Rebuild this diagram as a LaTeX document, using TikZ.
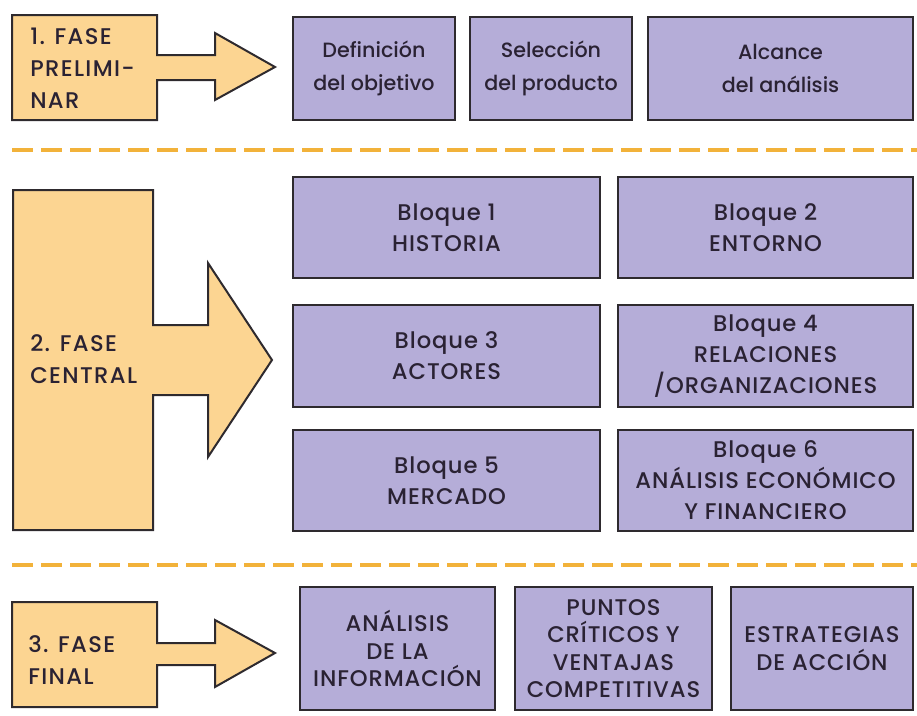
\documentclass[tikz,border=0pt]{standalone}
\usepackage{fontspec}
\setmainfont{Poppins}[UprightFont=* Medium]
\definecolor{phaseorange}{HTML}{FCD592}
\definecolor{boxpurple}{HTML}{B5ADD8}
\definecolor{linedark}{HTML}{2E2A2E}
\definecolor{dashorange}{HTML}{F2B23A}
\definecolor{textdark}{HTML}{2A2233}
\newcommand{\capsfont}{\fontsize{17}{23.25}\selectfont\addfontfeatures{LetterSpace=4}}
\begin{document}
\begin{tikzpicture}[x=0.75pt,y=-0.75pt,
  phase/.style={fill=phaseorange, draw=linedark, line width=1.5pt, line join=miter},
  phasetext/.style={anchor=west, align=left, text=textdark, inner sep=0pt,
    font=\fontsize{17}{24}\selectfont\addfontfeatures{LetterSpace=6}},
  box/.style={draw=linedark, fill=boxpurple, line width=1.5pt, align=center,
    text=textdark, inner sep=2pt, font=\capsfont},
  topbox/.style={box, minimum height=77.25pt, font=\fontsize{15.5}{24.75}\selectfont},
  blockbox/.style={box, minimum height=76pt},
  finbox/.style={box, minimum height=92.25pt, font=\fontsize{17}{20.5}\selectfont\addfontfeatures{LetterSpace=4}},
  sep/.style={draw=dashorange, line width=3pt, dash pattern=on 15.75pt off 6pt}
]
\useasboundingbox (0,0) rectangle (917,715);

% separators
\coordinate (s1a) at (12,150); \coordinate (s1b) at (917,150);
\coordinate (s2a) at (12,565); \coordinate (s2b) at (917,565);
\draw[sep] (s1a) -- (s1b);
\draw[sep] (s2a) -- (s2b);

% phase 1 shape
\path[phase] (12,15) -- (157,15) -- (157,55) -- (215,55) -- (215,33) -- (275,67)
  -- (215,100) -- (215,80) -- (157,80) -- (157,120) -- (12,120) -- cycle;
\node[phasetext] (p1) at (30,68.5) {1. FASE\\PRELIMI-\\NAR};

% phase 2 shape
\path[phase] (13,190) -- (153,190) -- (153,325) -- (208,325) -- (208,263) -- (272,360)
  -- (208,457) -- (208,395) -- (153,395) -- (153,530) -- (13,530) -- cycle;
\node[phasetext] (p2) at (30,359) {2. FASE\\CENTRAL};

% phase 3 shape
\path[phase] (12,602) -- (157,602) -- (157,643) -- (215,643) -- (215,620) -- (275,653)
  -- (215,687) -- (215,665) -- (157,665) -- (157,707) -- (12,707) -- cycle;
\node[phasetext] (p3) at (28,660) {3. FASE\\FINAL};

% top boxes
\node[topbox, minimum width=121.5pt] (t1) at (374,68.5) {Definición\\del objetivo};
\node[topbox, minimum width=121.5pt] (t2) at (551,68.5) {Selección\\del producto};
\node[topbox, minimum width=198.75pt] (t3) at (780.5,68.5) {Alcance\\del análisis};

% blocks
\node[blockbox, minimum width=230.25pt] (b1) at (446.5,227.5) {Bloque 1\\HISTORIA};
\node[blockbox, minimum width=221.25pt] (b2) at (765.5,227.5) {Bloque 2\\ENTORNO};
\node[blockbox, minimum width=230.25pt] (b3) at (446.5,356) {Bloque 3\\ACTORES};
\node[blockbox, minimum width=221.25pt] (b4) at (765.5,356) {Bloque 4\\RELACIONES\\/ORGANIZACIONES};
\node[blockbox, minimum width=230.25pt] (b5) at (446.5,480.5) {Bloque 5\\MERCADO};
\node[blockbox, minimum width=221.25pt] (b6) at (765.5,480.5) {Bloque 6\\ANÁLISIS ECONÓMICO\\Y FINANCIERO};

% final boxes
\node[finbox, minimum width=146.25pt] (f1) at (397.5,648.5) {ANÁLISIS\\DE LA\\INFORMACIÓN};
\node[finbox, minimum width=147.75pt] (f2) at (613.5,648.5) {PUNTOS\\CRÍTICOS Y\\VENTAJAS\\COMPETITIVAS};
\node[finbox, minimum width=136.5pt] (f3) at (822,648.5) {ESTRATEGIAS\\DE ACCIÓN};
\end{tikzpicture}
\end{document}
